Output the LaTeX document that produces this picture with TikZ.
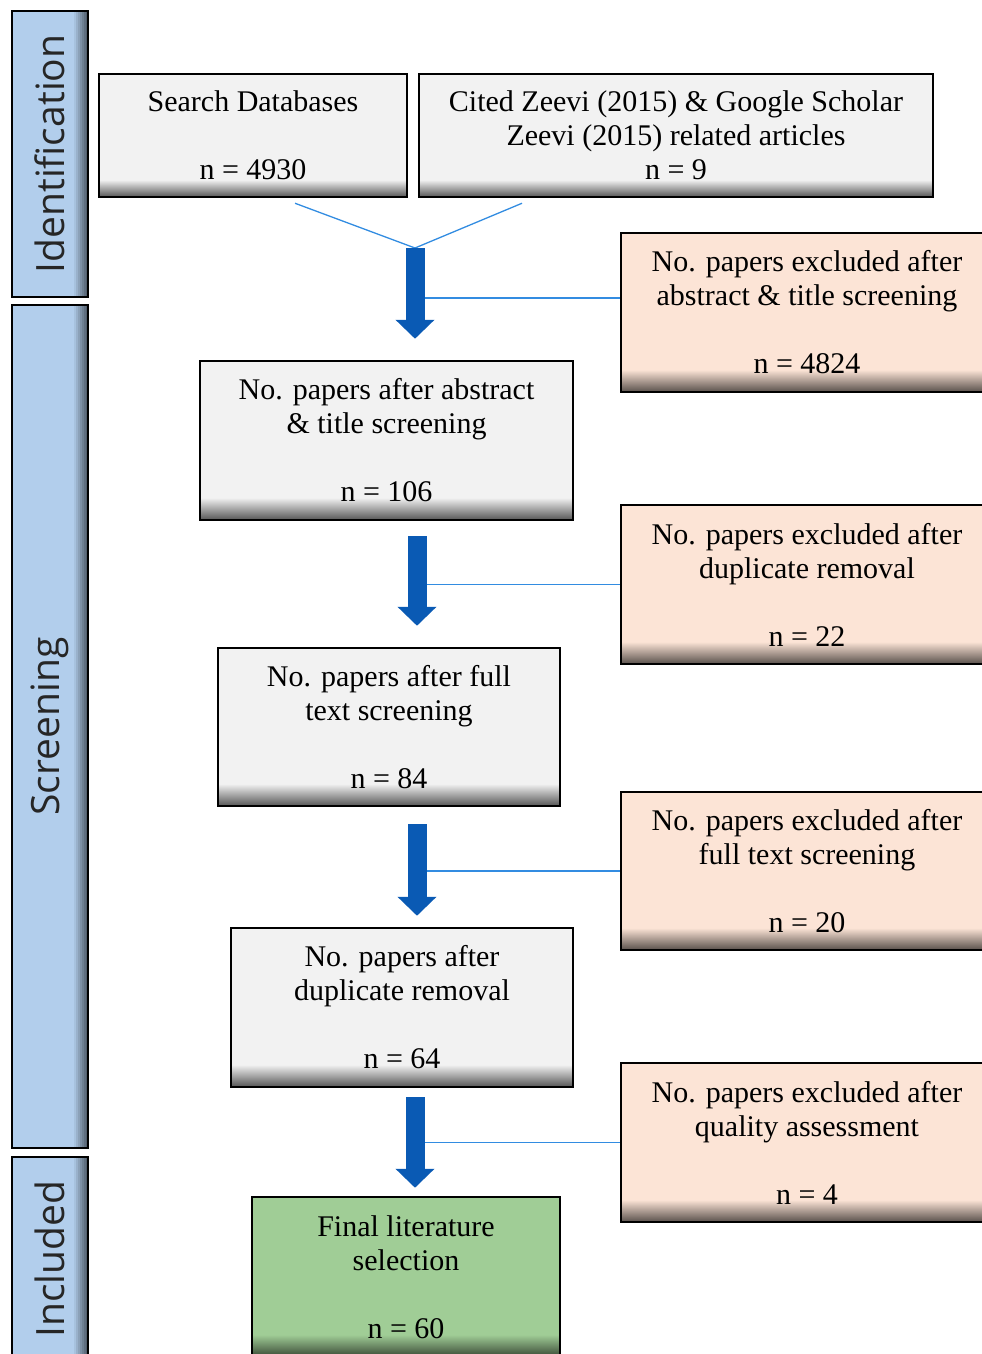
\documentclass[tikz,border=0pt]{standalone}
\usepackage{fontspec}
\setmainfont{Liberation Serif}
\newfontfamily\phasefont{Open Sans}
\usepackage{tikz}
\usetikzlibrary{positioning}
\usetikzlibrary{arrows.meta}
\definecolor{boxgray}{RGB}{242,242,242}
\definecolor{peach}{RGB}{252,228,214}
\definecolor{mygreen}{RGB}{160,205,150}
\definecolor{phaseblue}{RGB}{178,206,236}
\definecolor{linkblue}{RGB}{50,140,225}
\definecolor{arrowblue}{RGB}{10,90,180}
% the path box is fitted to 25bp--75bp of each shading
\pgfdeclareverticalshading{grayshade}{100bp}{color(0bp)=(boxgray!35!black); color(25bp)=(boxgray!35!black); color(32bp)=(boxgray); color(100bp)=(boxgray)}
\pgfdeclareverticalshading{peachshade}{100bp}{color(0bp)=(peach!35!black); color(25bp)=(peach!35!black); color(32bp)=(peach); color(100bp)=(peach)}
\pgfdeclareverticalshading{greenshade}{100bp}{color(0bp)=(mygreen!35!black); color(25bp)=(mygreen!35!black); color(32bp)=(mygreen); color(100bp)=(mygreen)}
\newcommand{\phaselabel}[1]{\rotatebox{90}{#1}}
\tikzset{flow box/.style={rectangle,draw=black,line width=2.5pt,shade,shading=#1,align=center,inner sep=0pt,
    font=\fontsize{30}{34}\selectfont},
  flow box/.default=grayshade,
  phase bar/.style={rectangle,draw=black,line width=2.5pt,fill=phaseblue,minimum width=76pt,
    inner sep=0pt,font=\phasefont\fontsize{39}{44}\selectfont,text=black!85,
    path picture={\foreach \i in {0,...,6}{\pgfmathsetmacro\xa{-14+2*\i}\pgfmathsetmacro\xb{-11.7+2*\i}\pgfmathtruncatemacro\mixval{94-8*\i}
      \fill[phaseblue!\mixval!black] ([xshift=\xa pt]path picture bounding box.north east) rectangle ([xshift=\xb pt]path picture bounding box.south east);}}},
  big arrow/.style={draw=arrowblue,line width=19pt,-{Triangle[width=38pt,length=19pt]}},
  thin link/.style={draw=linkblue,line width=1.3pt}}

\begin{document}
\begin{tikzpicture}[x=1pt,y=-1pt]
    \useasboundingbox (0,0) rectangle (982,1354);
    % phases
    \node[phase bar, minimum height=286pt] (id) at (50,154) {\phaselabel{Identification}};
    \node[phase bar, minimum height=843pt] (sc) at (50,726.5) {\phaselabel{Screening}};
    \node[phase bar, minimum height=204pt] (inc) at (50,1259) {\phaselabel{Included}};

    % main column
    \node[flow box, minimum width=308pt, minimum height=123pt] (sd) at (253,135.5) {Search Databases\\[34pt]n = 4930};
    \node[flow box, minimum width=514pt, minimum height=123pt] (cz) at (676,135.5) {Cited Zeevi (2015) \& Google Scholar\\Zeevi (2015) related articles\\n = 9};
    \node[flow box, minimum width=373pt, minimum height=159pt] (b1) at (386.5,440.5) {No. papers after abstract\\\& title screening\\[34pt]n = 106};
    \node[flow box, minimum width=342pt, minimum height=158pt] (b2) at (389,727) {No. papers after full\\text screening\\[34pt]n = 84};
    \node[flow box, minimum width=342pt, minimum height=159pt] (b3) at (402,1007.5) {No. papers after\\duplicate removal\\[34pt]n = 64};
    \node[flow box=greenshade, minimum width=308pt, minimum height=160pt] (fin) at (406,1277) {Final literature\\selection\\[34pt]n = 60};

    % excluded
    \node[flow box=peachshade, minimum width=372pt, minimum height=159pt] (ex1) at (807,312.5) {No. papers excluded after\\abstract \& title screening\\[34pt]n = 4824};
    \node[flow box=peachshade, minimum width=372pt, minimum height=159pt] (ex2) at (807,584.5) {No. papers excluded after\\duplicate removal\\[34pt]n = 22};
    \node[flow box=peachshade, minimum width=372pt, minimum height=158pt] (ex3) at (807,871) {No. papers excluded after\\full text screening\\[34pt]n = 20};
    \node[flow box=peachshade, minimum width=372pt, minimum height=159pt] (ex4) at (807,1142.5) {No. papers excluded after\\quality assessment\\[34pt]n = 4};

    \coordinate (j1) at (415,248);
    \coordinate (j2) at (417,536);
    \coordinate (j3) at (417,824);
    \coordinate (j4) at (415,1097);
    \coordinate (k1) at ([yshift=14.5pt]ex1.west);

    \draw[thin link] ([xshift=42pt,yshift=-5pt]sd.south) -- (j1) -- ([xshift=-154pt,yshift=-5pt]cz.south);
    \draw[thin link] (k1) -- (k1 -| j1);
    \draw[thin link] (ex2.west) -- (ex2.west -| j2);
    \draw[thin link] (ex3.west) -- (ex3.west -| j3);
    \draw[thin link] (ex4.west) -- (ex4.west -| j4);

    \draw[big arrow, shorten >=21pt] (j1) -- (j1 |- b1.north);
    \draw[big arrow, shorten >=21pt] (j2) -- (j2 |- b2.north);
    \draw[big arrow, shorten >=11pt] (j3) -- (j3 |- b3.north);
    \draw[big arrow, shorten >=8pt] (j4) -- (j4 |- fin.north);
\end{tikzpicture}
\end{document}
